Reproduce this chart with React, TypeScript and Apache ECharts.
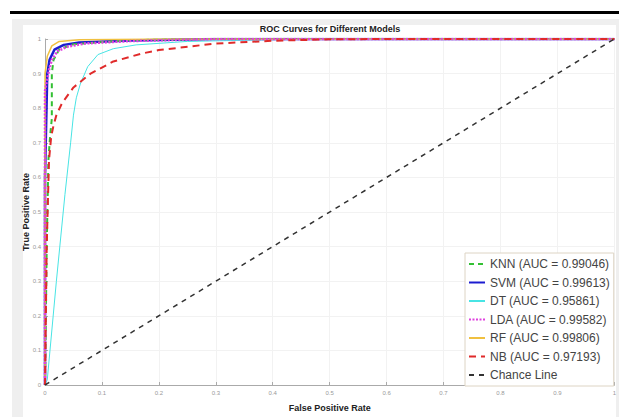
import React, { useEffect, useRef } from "react";
import * as echarts from "echarts";

// ---- data ----
const modelNames = ["KNN", "SVM", "DT", "LDA", "RF", "NB"];
const aucValues = ["0.99046", "0.99613", "0.95861", "0.99582", "0.99806", "0.97193"];
const tickLabels = ["0", "0.1", "0.2", "0.3", "0.4", "0.5", "0.6", "0.7", "0.8", "0.9", "1"];

const knnFPR = [0, 0.003, 0.006, 0.009, 0.012, 0.012, 0.015, 0.025, 0.05, 0.15, 0.3, 1];
const knnTPR = [0, 0.4, 0.65, 0.72, 0.77, 0.9, 0.94, 0.97, 0.985, 0.997, 1, 1];

const svmFPR = [0, 0, 0.004, 0.008, 0.0165, 0.033, 0.06, 0.15, 0.3, 1];
const svmTPR = [0, 0.6, 0.9, 0.94, 0.969, 0.983, 0.99, 0.996, 1, 1];

const dtFPR = [0, 0.004, 0.02, 0.035, 0.045, 0.05, 0.055, 0.062, 0.075, 0.093, 0.12, 0.16, 0.25, 0.4, 0.6, 1];
const dtTPR = [0, 0.015, 0.3, 0.55, 0.7, 0.78, 0.83, 0.87, 0.92, 0.955, 0.972, 0.983, 0.993, 0.998, 1, 1];

const ldaFPR = [0, 0, 0.007, 0.012, 0.022, 0.04, 0.07, 0.15, 0.3, 1];
const ldaTPR = [0, 0.85, 0.91, 0.94, 0.965, 0.978, 0.987, 0.994, 1, 1];

const rfFPR = [0, 0, 0.004, 0.012, 0.025, 0.06, 0.2, 1];
const rfTPR = [0, 0.9, 0.95, 0.98, 0.993, 0.998, 1, 1];

const nbFPR = [0, 0.003, 0.007, 0.011, 0.015, 0.02, 0.03, 0.05, 0.08, 0.12, 0.17, 0.2, 0.3, 0.4, 0.5, 0.6, 1];
const nbTPR = [0, 0.4, 0.65, 0.72, 0.75, 0.78, 0.815, 0.86, 0.9, 0.935, 0.958, 0.968, 0.987, 0.995, 0.999, 1, 1];

const chanceFPR = [0, 1];
const chanceTPR = [0, 1];

const curveFPR = [knnFPR, svmFPR, dtFPR, ldaFPR, rfFPR, nbFPR];
const curveTPR = [knnTPR, svmTPR, dtTPR, ldaTPR, rfTPR, nbTPR];

// ---- styles ----
const curveStyles: any[] = [
  { color: "#33c033", width: 2, type: [5, 4], z: 4 },
  { color: "#1c1cd0", width: 2.5, type: "solid", z: 3 },
  { color: "#48e4e4", width: 1, type: "solid", z: 5 },
  { color: "#e040e0", width: 2.5, type: [2, 1.5], z: 7 },
  { color: "#f0c040", width: 1.5, type: "solid", z: 6 },
  { color: "#e02a2a", width: 2, type: [7, 5], z: 8 },
];

const zip = (xs: number[], ys: number[]) => xs.map((x, i) => [x, ys[i]]);

export default function App() {
  const ref = useRef<HTMLDivElement>(null);
  useEffect(() => {
    if (!ref.current) return;
    const chart = echarts.init(ref.current, null, { renderer: "svg" });
    const legendNames = modelNames.map((m, i) => `${m} (AUC = ${aucValues[i]})`).concat(["Chance Line"]);
    const series: any[] = modelNames.map((m, i) => ({
      name: legendNames[i],
      type: "line",
      data: zip(curveFPR[i], curveTPR[i]),
      symbol: "none",
      showSymbol: false,
      smooth: false,
      lineStyle: { color: curveStyles[i].color, width: curveStyles[i].width, type: curveStyles[i].type },
      itemStyle: { color: curveStyles[i].color },
      z: curveStyles[i].z,
    }));
    series.push({
      name: "Chance Line",
      type: "line",
      data: zip(chanceFPR, chanceTPR),
      symbol: "none",
      showSymbol: false,
      lineStyle: { color: "#333333", width: 1.5, type: [5, 5] },
      itemStyle: { color: "#333333" },
      z: 10,
    });
    const labelFmt = (v: number) => tickLabels[Math.round(v * 10)] ?? "";
    chart.setOption({
      animation: false,
      backgroundColor: "#ffffff",
      graphic: [
        { type: "rect", z: -20, shape: { x: 12, y: 19, width: 607, height: 398 }, style: { fill: "#efefef" } },
        { type: "rect", z: -19, shape: { x: 23, y: 25, width: 593, height: 392 }, style: { fill: "#ffffff" } },
        { type: "rect", z: -18, shape: { x: 10, y: 11, width: 609, height: 3 }, style: { fill: "#000000" } },
      ],
      title: {
        text: "ROC Curves for Different Models",
        left: 330,
        textAlign: "center",
        top: 24,
        padding: 0,
        textStyle: { fontSize: 9, fontWeight: "bold", color: "#222", fontFamily: "Liberation Sans" },
      },
      grid: { left: 45, right: 4, top: 39, bottom: 20, containLabel: false },
      xAxis: {
        type: "value",
        min: 0,
        max: 1,
        interval: 0.1,
        name: "False Positive Rate",
        nameLocation: "middle",
        nameGap: 18,
        nameMoveOverlap: false,
        nameTextStyle: { fontSize: 9, fontWeight: "bold", color: "#222", fontFamily: "Liberation Sans" },
        axisLine: { show: true, lineStyle: { color: "#aaaaaa", width: 1 } },
        axisTick: { show: true, inside: true, length: 3, lineStyle: { color: "#aaaaaa" } },
        axisLabel: { formatter: labelFmt, fontSize: 6, color: "#999", margin: 5, fontFamily: "Liberation Sans" },
        splitLine: { show: true, lineStyle: { color: "#f2f2f2", width: 1 } },
      },
      yAxis: {
        type: "value",
        min: 0,
        max: 1,
        interval: 0.1,
        name: "True Positive Rate",
        nameLocation: "middle",
        nameGap: 15,
        nameMoveOverlap: false,
        nameTextStyle: { fontSize: 9, fontWeight: "bold", color: "#222", fontFamily: "Liberation Sans" },
        axisLine: { show: true, lineStyle: { color: "#aaaaaa", width: 1 } },
        axisTick: { show: true, inside: true, length: 3, lineStyle: { color: "#aaaaaa" } },
        axisLabel: { formatter: labelFmt, fontSize: 6, color: "#999", margin: 4, fontFamily: "Liberation Sans" },
        splitLine: { show: true, lineStyle: { color: "#f2f2f2", width: 1 } },
      },
      legend: {
        orient: "vertical",
        left: 465,
        top: 253,
        padding: [5, 4, 5, 3],
        itemWidth: 16,
        itemHeight: 10,
        itemGap: 6.5,
        backgroundColor: "#ffffff",
        borderColor: "#ddd4c4",
        borderWidth: 1,
        borderRadius: 0,
        itemStyle: { opacity: 0 },
        data: legendNames,
        textStyle: { fontSize: 12, lineHeight: 10, color: "#444", fontFamily: "Liberation Sans" },
      },
      series,
    });
    return () => chart.dispose();
  }, []);
  return <div ref={ref} style={{ position: "fixed", left: 0, top: 0, width: 619, height: 417 }} />;
}
